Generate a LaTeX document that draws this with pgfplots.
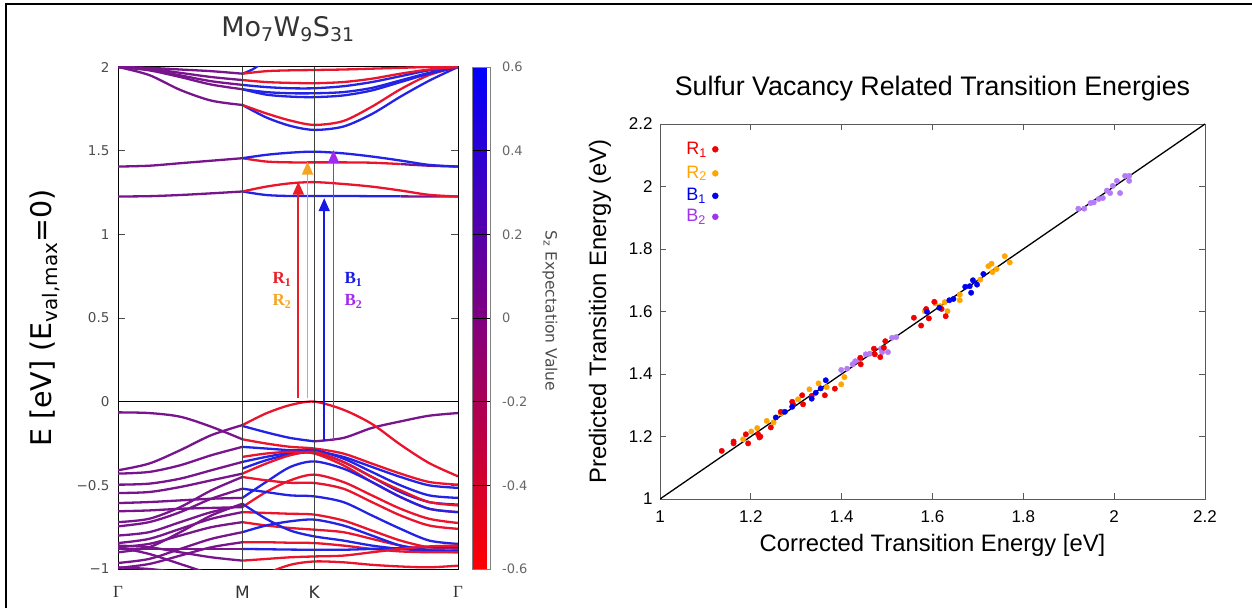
\documentclass[border=0pt]{standalone}
\usepackage{fontspec}
\setmainfont{Liberation Sans}
\newfontfamily\djv{DejaVu Sans}
\newfontfamily\serf{Liberation Serif}
\usepackage{pgfplots}
\pgfplotsset{compat=1.18}
\usetikzlibrary{arrows.meta}
\definecolor{bp}{RGB}{120,20,140}
\definecolor{br}{RGB}{235,20,45}
\definecolor{bb}{RGB}{35,35,230}
\definecolor{aR}{RGB}{235,30,40}
\definecolor{aO}{RGB}{245,165,35}
\definecolor{aB}{RGB}{25,25,230}
\definecolor{aP}{RGB}{165,40,240}
\definecolor{sR}{RGB}{240,0,0}
\definecolor{sO}{RGB}{255,165,0}
\definecolor{sB}{RGB}{0,0,240}
\definecolor{sP}{RGB}{180,125,245}
\definecolor{lP}{RGB}{160,50,240}
\pgfplotsset{
 bP/.style={draw=bp, line width=2.3pt, smooth, no markers},
 bR/.style={draw=br, line width=2.3pt, smooth, no markers},
 bB/.style={draw=bb, line width=2.3pt, smooth, no markers},
}
\begin{document}
\begin{tikzpicture}
\useasboundingbox (0pt,0pt) rectangle (1252pt,608pt);
\draw[line width=2.5pt] (6pt,0pt) -- (6pt,604pt) -- (1252pt,604pt);
% ---------------- left panel ----------------
\begin{axis}[
  at={(118pt,39pt)}, anchor=south west,
  scale only axis, width=340pt, height=502pt,
  xmin=0, xmax=2.732, ymin=-1, ymax=2,
  axis line style={black, line width=1pt},
  xtick={0,1,1.577,2.732},
  xticklabels={{\serf Γ},M,K,{\serf Γ}},
  xtick style={draw=none},
  xticklabel style={font=\djv\fontsize{17}{20}\selectfont, text=black!80, anchor=center, yshift=-23pt},
  ytick={-1,-0.5,0,0.5,1,1.5,2},
  yticklabels={−1,−0.5,0,0.5,1,1.5,2},
  ytick pos=both, ytick align=inside, major tick length=7pt,
  ytick style={black!70, line width=0.8pt},
  yticklabel style={font=\djv\fontsize{13.5}{15}\selectfont, text=black!70, anchor=east, xshift=-5pt},
  title={Mo\textsubscript{7}W\textsubscript{9}S\textsubscript{31}},
  title style={font=\djv\fontsize{27}{31}\selectfont, text=black!80, at={(axis description cs:0.5,1)}, anchor=center, yshift=32pt},
  ylabel={E [eV] (E\textsubscript{val,max}=0)},
  ylabel style={font=\djv\fontsize{28.5}{33}\selectfont, at={(axis description cs:-0.215,0.5)}, anchor=center},
  colormap={rb}{rgb255=(255,0,0) rgb255=(128,0,128) rgb255=(0,0,255)},
  point meta min=-0.6, point meta max=0.6,
  colorbar,
  colorbar style={
    at={(parent axis.north east)}, anchor=north west, xshift=6pt,
    width=18pt,
    ytick={-0.6,-0.4,-0.2,0,0.2,0.4,0.6},
    yticklabels={-0.6,-0.4,-0.2,0,0.2,0.4,0.6},
    yticklabel style={font=\djv\fontsize{13}{15}\selectfont, text=black!60, anchor=west, xshift=8pt},
    ytick pos=right, ytick align=inside, major tick length=18pt,
    ytick style={black, line width=0.8pt},
    axis line style={black!50, line width=0.6pt},
    ylabel={S\textsubscript{z} Expectation Value},
    ylabel style={font=\djv\fontsize{15.5}{18}\selectfont, text=black!70, at={(axis description cs:4.3,0.514)}, anchor=center, rotate=180},
  },
]
% ---- conduction bands, Gamma-M (purple)
\addplot[bP] coordinates {(0,1.226)(0.25,1.228)(0.5,1.235)(0.75,1.245)(1,1.256)};
\addplot[bP] coordinates {(0,1.405)(0.25,1.41)(0.5,1.425)(0.75,1.44)(1,1.455)};
\addplot[bP] coordinates {(0,2.0)(0.25,1.952)(0.5,1.863)(0.75,1.799)(1,1.773)};
\addplot[bP] coordinates {(0,2.0)(0.25,1.99)(0.5,1.965)(0.75,1.94)(1,1.922)};
\addplot[bP] coordinates {(0,2.0)(0.25,1.985)(0.5,1.95)(0.75,1.915)(1,1.893)};
\addplot[bP] coordinates {(0,2.0)(0.25,1.98)(0.5,1.94)(0.75,1.895)(1,1.867)};
\addplot[bP] coordinates {(0,2.0)(0.25,1.995)(0.5,1.985)(0.75,1.975)(1,1.96)};
% ---- conduction bands, M-K-Gamma
\addplot[bB] coordinates {(1,1.256)(1.19,1.235)(1.385,1.229)(1.577,1.229)(1.81,1.229)(2.04,1.228)(2.27,1.227)};
\addplot[bP] coordinates {(2.27,1.227)(2.5,1.226)(2.732,1.226)};
\addplot[bR] coordinates {(1,1.256)(1.19,1.285)(1.385,1.305)(1.577,1.312)(1.81,1.301)(2.04,1.285)(2.27,1.262)(2.5,1.236)(2.732,1.226)};
\addplot[bR] coordinates {(1,1.455)(1.19,1.435)(1.385,1.43)(1.577,1.43)(1.81,1.43)(2.04,1.428)(2.27,1.42)};
\addplot[bP] coordinates {(2.27,1.42)(2.5,1.41)(2.732,1.405)};
\addplot[bB] coordinates {(1,1.455)(1.19,1.475)(1.385,1.488)(1.577,1.494)(1.81,1.484)(2.04,1.465)(2.27,1.441)(2.5,1.415)(2.732,1.405)};
\addplot[bB] coordinates {(1,1.773)(1.19,1.699)(1.385,1.648)(1.577,1.624)(1.81,1.644)(2.04,1.719)(2.27,1.823)(2.5,1.918)(2.732,2.0)};
\addplot[bR] coordinates {(1,1.773)(1.19,1.723)(1.385,1.68)(1.577,1.654)(1.81,1.677)(2.04,1.763)(2.27,1.867)(2.5,1.952)(2.732,2.0)};
\addplot[bB] coordinates {(1,1.893)(1.19,1.88)(1.385,1.873)(1.577,1.873)(1.81,1.885)(2.04,1.91)(2.27,1.945)(2.5,1.98)(2.732,2.0)};
\addplot[bB] coordinates {(1,1.867)(1.19,1.85)(1.385,1.843)(1.577,1.843)(1.81,1.85)(2.04,1.875)(2.27,1.92)(2.5,1.965)(2.732,2.0)};
\addplot[bB] coordinates {(1,1.867)(1.19,1.835)(1.385,1.823)(1.577,1.82)(1.81,1.83)(2.04,1.86)(2.27,1.91)(2.5,1.96)(2.732,2.0)};
\addplot[bB] coordinates {(1,1.96)(1.08,1.985)(1.15,2.02)};
\addplot[bR] coordinates {(1,1.922)(1.19,1.91)(1.385,1.905)(1.577,1.903)(1.81,1.91)(2.04,1.93)(2.27,1.96)(2.5,1.985)(2.732,2.0)};
\addplot[bR] coordinates {(1,1.96)(1.19,1.975)(1.385,1.98)(1.577,1.982)(1.81,1.985)(2.04,1.99)(2.27,1.995)(2.5,2.0)(2.732,2.0)};
% ---- valence bands, Gamma-M (purple)
\addplot[bP] coordinates {(0,-0.41)(0.25,-0.37)(0.5,-0.29)(0.75,-0.20)(1,-0.14)};
\addplot[bP] coordinates {(0,-0.064)(0.25,-0.068)(0.5,-0.09)(0.75,-0.15)(1,-0.225)};
\addplot[bP] coordinates {(0,-0.43)(0.25,-0.42)(0.5,-0.38)(0.75,-0.32)(1,-0.27)};
\addplot[bP] coordinates {(0,-0.496)(0.25,-0.49)(0.5,-0.46)(0.75,-0.41)(1,-0.36)};
\addplot[bP] coordinates {(0,-0.546)(0.25,-0.54)(0.5,-0.51)(0.75,-0.47)(1,-0.43)};
\addplot[bP] coordinates {(0,-0.606)(0.25,-0.60)(0.5,-0.59)(0.75,-0.58)(1,-0.575)};
\addplot[bP] coordinates {(0,-0.655)(0.25,-0.65)(0.5,-0.64)(0.75,-0.635)(1,-0.63)};
\addplot[bP] coordinates {(0,-0.72)(0.25,-0.70)(0.5,-0.63)(0.75,-0.53)(1,-0.45)};
\addplot[bP] coordinates {(0,-0.745)(0.25,-0.72)(0.5,-0.66)(0.75,-0.58)(1,-0.52)};
\addplot[bP] coordinates {(0,-0.845)(0.25,-0.82)(0.5,-0.76)(0.75,-0.70)(1,-0.66)};
\addplot[bP] coordinates {(0,-0.87)(0.25,-0.85)(0.5,-0.80)(0.75,-0.75)(1,-0.72)};
\addplot[bP] coordinates {(0,-0.90)(0.25,-0.87)(0.5,-0.78)(0.75,-0.68)(1,-0.61)};
\addplot[bP] coordinates {(0,-0.964)(0.25,-0.94)(0.5,-0.88)(0.75,-0.82)(1,-0.78)};
\addplot[bP] coordinates {(0,-0.994)(0.25,-0.97)(0.5,-0.92)(0.75,-0.87)(1,-0.84)};
\addplot[bP] coordinates {(0,-0.88)(0.25,-0.88)(0.5,-0.88)(0.75,-0.88)(1,-0.88)};
\addplot[bP] coordinates {(0,-0.86)(0.25,-0.87)(0.5,-0.90)(0.75,-0.93)(1,-0.95)};
\addplot[bP] coordinates {(0,-0.87)(0.25,-0.91)(0.5,-0.97)(0.75,-1.03)(1,-1.08)};
\addplot[bP] coordinates {(0,-0.99)(0.25,-1.0)(0.5,-1.02)(0.75,-1.04)(1,-1.06)};
\addplot[bP] coordinates {(0,-0.80)(0.25,-0.78)(0.5,-0.72)(0.75,-0.66)(1,-0.62)};
% ---- valence bands, M-K-Gamma
\addplot[bR] coordinates {(1,-0.225)(1.19,-0.25)(1.385,-0.27)(1.577,-0.28)(1.81,-0.31)(2.04,-0.37)(2.27,-0.43)(2.5,-0.48)(2.732,-0.496)};
\addplot[bB] coordinates {(1,-0.27)(1.19,-0.28)(1.385,-0.29)(1.577,-0.295)(1.81,-0.33)(2.04,-0.39)(2.27,-0.45)(2.5,-0.50)(2.732,-0.515)};
\addplot[bB] coordinates {(1,-0.36)(1.19,-0.33)(1.385,-0.305)(1.577,-0.29)(1.81,-0.34)(2.04,-0.42)(2.27,-0.50)(2.5,-0.56)(2.732,-0.575)};
\addplot[bB] coordinates {(1,-0.40)(1.19,-0.35)(1.385,-0.315)(1.577,-0.305)(1.81,-0.36)(2.04,-0.45)(2.27,-0.54)(2.5,-0.60)(2.732,-0.615)};
\addplot[bR] coordinates {(1,-0.43)(1.19,-0.37)(1.385,-0.32)(1.577,-0.30)(1.81,-0.36)(2.04,-0.45)(2.27,-0.53)(2.5,-0.60)(2.732,-0.62)};
\addplot[bR] coordinates {(1,-0.33)(1.19,-0.31)(1.385,-0.30)(1.577,-0.31)(1.81,-0.38)(2.04,-0.48)(2.27,-0.57)(2.5,-0.64)(2.732,-0.66)};
\addplot[bB] coordinates {(1,-0.575)(1.19,-0.48)(1.385,-0.39)(1.577,-0.357)(1.81,-0.40)(2.04,-0.48)(2.27,-0.57)(2.5,-0.64)(2.732,-0.66)};
\addplot[bR] coordinates {(1,-0.63)(1.19,-0.54)(1.385,-0.47)(1.577,-0.436)(1.81,-0.48)(2.04,-0.56)(2.27,-0.64)(2.5,-0.70)(2.732,-0.725)};
\addplot[bR] coordinates {(1,-0.45)(1.19,-0.47)(1.385,-0.485)(1.577,-0.486)(1.81,-0.52)(2.04,-0.60)(2.27,-0.68)(2.5,-0.74)(2.732,-0.76)};
\addplot[bB] coordinates {(1,-0.52)(1.19,-0.54)(1.385,-0.56)(1.577,-0.566)(1.81,-0.60)(2.04,-0.68)(2.27,-0.76)(2.5,-0.83)(2.732,-0.85)};
\addplot[bR] coordinates {(1,-0.66)(1.19,-0.665)(1.385,-0.67)(1.577,-0.675)(1.81,-0.71)(2.04,-0.77)(2.27,-0.83)(2.5,-0.87)(2.732,-0.875)};
\addplot[bR] coordinates {(1,-0.72)(1.19,-0.74)(1.385,-0.755)(1.577,-0.765)(1.81,-0.78)(2.04,-0.82)(2.27,-0.86)(2.5,-0.885)(2.732,-0.89)};
\addplot[bB] coordinates {(1,-0.61)(1.19,-0.70)(1.385,-0.77)(1.577,-0.805)(1.81,-0.83)(2.04,-0.86)(2.27,-0.88)(2.5,-0.89)(2.732,-0.89)};
\addplot[bB] coordinates {(1,-0.78)(1.19,-0.74)(1.385,-0.715)(1.577,-0.705)(1.81,-0.74)(2.04,-0.80)(2.27,-0.86)(2.5,-0.89)(2.732,-0.90)};
\addplot[bR] coordinates {(1,-0.84)(1.19,-0.84)(1.385,-0.843)(1.577,-0.845)(1.81,-0.86)(2.04,-0.88)(2.27,-0.895)(2.5,-0.90)(2.732,-0.90)};
\addplot[bB] coordinates {(1,-0.88)(1.19,-0.882)(1.385,-0.884)(1.577,-0.885)(1.81,-0.885)(2.04,-0.88)(2.27,-0.875)(2.5,-0.87)(2.732,-0.87)};
\addplot[bR] coordinates {(1,-0.95)(1.19,-0.94)(1.385,-0.93)(1.577,-0.925)(1.81,-0.92)(2.04,-0.90)(2.27,-0.88)(2.5,-0.865)(2.732,-0.86)};
\addplot[bR] coordinates {(1,-1.12)(1.19,-1.03)(1.385,-0.975)(1.577,-0.955)(1.81,-0.96)(2.04,-0.975)(2.27,-0.985)(2.5,-0.99)(2.732,-0.98)};
\addplot[bB] coordinates {(1,-0.145)(1.19,-0.183)(1.385,-0.217)(1.577,-0.237)};
\addplot[bP] coordinates {(1.577,-0.237)(1.81,-0.217)(2.04,-0.157)(2.27,-0.118)(2.5,-0.084)(2.732,-0.068)};
\addplot[bR] coordinates {(1,-0.14)(1.19,-0.07)(1.385,-0.02)(1.577,0.0)(1.81,-0.048)(2.04,-0.133)(2.27,-0.257)(2.5,-0.367)(2.732,-0.446)};
% ---- guide lines
\addplot[black!75, line width=0.9pt] coordinates {(1,-1)(1,2)};
\addplot[black!75, line width=0.9pt] coordinates {(1.577,-1)(1.577,2)};
\addplot[black, line width=1.4pt] coordinates {(0,0)(2.732,0)};
% ---- transition arrows
\addplot[aR, line width=1.7pt, -{Triangle[width=11pt,length=13pt]}] coordinates {(1.449,0.024)(1.449,1.315)};
\addplot[aO, line width=1.7pt, -{Triangle[width=11pt,length=13pt]}] coordinates {(1.523,0.024)(1.523,1.435)};
\addplot[aB, line width=1.7pt, -{Triangle[width=11pt,length=13pt]}] coordinates {(1.657,-0.237)(1.657,1.216)};
\addplot[aP, line width=1.7pt, -{Triangle[width=11pt,length=13pt]}] coordinates {(1.732,-0.237)(1.732,1.504)};
\node[text=aR, font=\serf\bfseries\fontsize{17}{20}\selectfont] at (axis cs:1.317,0.73) {R\textsubscript{1}};
\node[text=aO, font=\serf\bfseries\fontsize{17}{20}\selectfont] at (axis cs:1.317,0.60) {R\textsubscript{2}};
\node[text=aB, font=\serf\bfseries\fontsize{17}{20}\selectfont] at (axis cs:1.892,0.73) {B\textsubscript{1}};
\node[text=aP, font=\serf\bfseries\fontsize{17}{20}\selectfont] at (axis cs:1.892,0.60) {B\textsubscript{2}};
\end{axis}
% ---------------- right panel ----------------
\begin{axis}[
  at={(660pt,109pt)}, anchor=south west,
  scale only axis, width=545pt, height=375pt,
  xmin=1, xmax=2.2, ymin=1, ymax=2.2,
  xtick={1,1.2,1.4,1.6,1.8,2,2.2}, ytick={1,1.2,1.4,1.6,1.8,2,2.2},
  xticklabels={1,1.2,1.4,1.6,1.8,2,2.2}, yticklabels={1,1.2,1.4,1.6,1.8,2,2.2},
  tick align=inside, major tick length=6pt,
  axis line style={black!65, line width=0.9pt},
  tick style={black!65, line width=0.8pt},
  xticklabel style={font=\fontsize{17}{20}\selectfont, anchor=center, yshift=-18pt},
  yticklabel style={font=\fontsize{17}{20}\selectfont, anchor=east, xshift=-4pt},
  title={Sulfur Vacancy Related Transition Energies},
  title style={font=\fontsize{26.8}{31}\selectfont, at={(axis description cs:0.5,1)}, anchor=center, yshift=29pt},
  xlabel={Corrected Transition Energy [eV]},
  xlabel style={font=\fontsize{23.8}{28}\selectfont, at={(axis description cs:0.5,0)}, anchor=center, yshift=-46pt},
  ylabel={Predicted Transition Energy (eV)},
  ylabel style={font=\fontsize{23.8}{28}\selectfont, at={(axis description cs:-0.11,0.5)}, anchor=center},
]
\addplot[black, line width=1.3pt] coordinates {(1,1)(2.2,2.2)};
\addplot[sP, only marks, mark=*, mark size=2.7pt] coordinates {(1.399,1.413)(1.412,1.417)(1.424,1.431)(1.430,1.441)(1.439,1.445)(1.453,1.463)(1.462,1.465)(1.487,1.481)(1.489,1.470)(1.502,1.470)(1.511,1.516)(1.520,1.518)(1.921,1.929)(1.934,1.929)(1.948,1.947)(1.955,1.949)(1.966,1.960)(1.975,1.963)(1.984,1.987)(1.991,1.979)(1.997,2.002)(2.006,2.018)(2.013,1.979)(2.024,2.034)(2.033,2.034)(2.033,2.018)};
\addplot[sO, only marks, mark=*, mark size=2.7pt] coordinates {(1.183,1.191)(1.201,1.216)(1.214,1.227)(1.235,1.250)(1.250,1.245)(1.266,1.274)(1.304,1.319)(1.329,1.351)(1.349,1.370)(1.367,1.358)(1.399,1.367)(1.406,1.390)(1.583,1.601)(1.606,1.626)(1.617,1.617)(1.627,1.630)(1.633,1.601)(1.660,1.654)(1.660,1.636)(1.705,1.702)(1.723,1.745)(1.730,1.753)(1.732,1.726)(1.741,1.736)(1.759,1.777)(1.770,1.757)};
\addplot[sR, only marks, mark=*, mark size=2.7pt] coordinates {(1.136,1.154)(1.162,1.184)(1.162,1.178)(1.189,1.207)(1.194,1.178)(1.216,1.207)(1.219,1.197)(1.221,1.200)(1.244,1.229)(1.266,1.279)(1.291,1.311)(1.293,1.303)(1.313,1.332)(1.315,1.303)(1.334,1.330)(1.363,1.332)(1.385,1.353)(1.441,1.452)(1.442,1.431)(1.471,1.481)(1.473,1.463)(1.485,1.454)(1.496,1.505)(1.493,1.484)(1.559,1.580)(1.575,1.555)(1.586,1.608)(1.592,1.578)(1.604,1.631)(1.620,1.608)(1.629,1.585)};
\addplot[sB, only marks, mark=*, mark size=2.7pt] coordinates {(1.255,1.261)(1.275,1.279)(1.291,1.295)(1.334,1.321)(1.343,1.340)(1.354,1.354)(1.365,1.380)(1.588,1.599)(1.615,1.612)(1.637,1.636)(1.646,1.640)(1.672,1.679)(1.685,1.660)(1.689,1.700)(1.698,1.686)(1.712,1.720)(1.682,1.681)};
% legend dots
\addplot[sR, only marks, mark=*, mark size=3pt] coordinates {(1.1218,2.119)};
\addplot[sO, only marks, mark=*, mark size=3pt] coordinates {(1.1218,2.042)};
\addplot[sB, only marks, mark=*, mark size=3pt] coordinates {(1.1218,1.970)};
\addplot[lP, only marks, mark=*, mark size=3pt] coordinates {(1.1218,1.903)};
\node[anchor=base west, inner sep=0pt, text=sR, font=\fontsize{18}{21}\selectfont] at (axis cs:1.0575,2.102) {R\textsubscript{1}};
\node[anchor=base west, inner sep=0pt, text=sO, font=\fontsize{18}{21}\selectfont] at (axis cs:1.0575,2.027) {R\textsubscript{2}};
\node[anchor=base west, inner sep=0pt, text=sB, font=\fontsize{18}{21}\selectfont] at (axis cs:1.0575,1.955) {B\textsubscript{1}};
\node[anchor=base west, inner sep=0pt, text=lP, font=\fontsize{18}{21}\selectfont] at (axis cs:1.0575,1.888) {B\textsubscript{2}};
\end{axis}
\end{tikzpicture}
\end{document}
